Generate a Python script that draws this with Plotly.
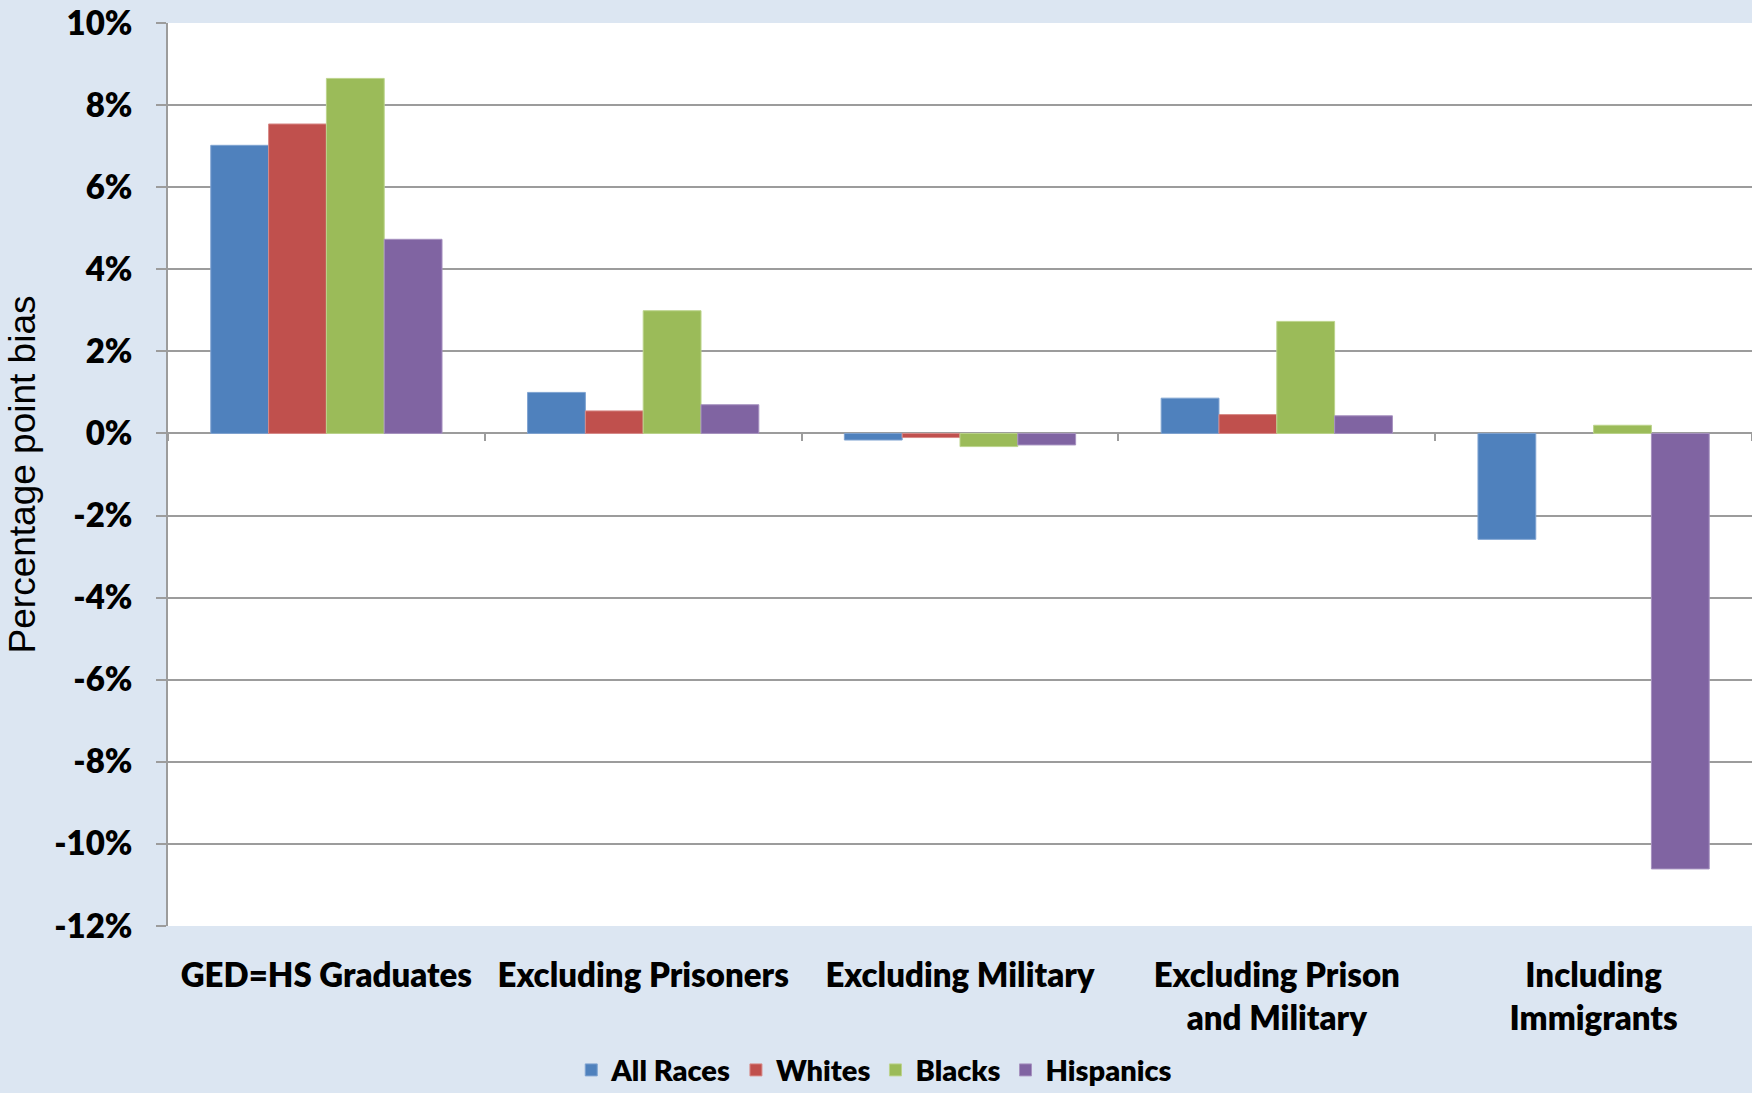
import plotly.graph_objects as go

categories = ["GED=HS Graduates", "Excluding Prisoners", "Excluding Military",
              "Excluding Prison<br>and Military", "Including<br>Immigrants"]
series_names = ["All Races", "Whites", "Blacks", "Hispanics"]
all_races = [7.02, 1.00, -0.16, 0.86, -2.58]
whites = [7.54, 0.55, -0.10, 0.46, None]
blacks = [8.65, 2.99, -0.32, 2.73, 0.20]
hispanics = [4.73, 0.70, -0.28, 0.43, -10.61]
colors = ["#4F81BD", "#C0504D", "#9BBB59", "#8064A2"]
line_colors = ["#7FA3D1", "#D88A88", "#BCD48C", "#A792C0"]
y_tick_vals = [10, 8, 6, 4, 2, 0, -2, -4, -6, -8, -10, -12]
y_tick_text = ["10%", "8%", "6%", "4%", "2%", "0%", "-2%", "-4%", "-6%", "-8%", "-10%", "-12%"]

FONT = "Lato"
GRID = "#9C9C9C"

fig = go.Figure()
for name, vals, c, lc in zip(series_names, [all_races, whites, blacks, hispanics], colors, line_colors):
    fig.add_trace(go.Bar(name=name, x=categories, y=vals, marker=dict(color=c, line=dict(color=lc, width=1))))

# invisible trace to host the overlay axis that draws category boundary ticks at the zero line
fig.add_trace(go.Scatter(x=categories, y=[None] * len(categories), xaxis="x2", showlegend=False,
                         hoverinfo="skip", mode="markers"))

fig.update_layout(
    width=1752, height=1093,
    paper_bgcolor="#DCE6F2", plot_bgcolor="white",
    margin=dict(l=168, r=0, t=23, b=167),
    barmode="group", bargap=0.27, bargroupgap=0,
    font=dict(family=FONT, color="black"),
    xaxis=dict(type="category", showgrid=False, showline=False, ticks="",
               tickfont=dict(family=FONT, size=33, color="black", weight=800),
               ticklabelstandoff=27, zeroline=False),
    xaxis2=dict(type="category", overlaying="x", matches="x", anchor="free",
                position=12 / 22, side="bottom", showticklabels=False, showgrid=False,
                showline=False, ticks="outside", tickson="boundaries", ticklen=7,
                tickwidth=2, tickcolor=GRID),
    yaxis=dict(range=[-12, 10], tickvals=y_tick_vals, ticktext=y_tick_text,
               showgrid=True, gridcolor=GRID, gridwidth=2,
               zeroline=True, zerolinecolor=GRID, zerolinewidth=2,
               showline=True, linecolor=GRID, linewidth=2,
               ticks="outside", ticklen=10, tickwidth=2, tickcolor=GRID,
               ticklabelstandoff=17,
               tickfont=dict(family=FONT, size=33, color="black", weight=800),
               title=dict(text="Percentage point bias",
                          font=dict(family="Liberation Sans", size=37, color="black"),
                          standoff=7)),
    legend=dict(orientation="h", xref="container", x=0.499, xanchor="center",
                yref="container", y=0.021, yanchor="middle",
                font=dict(family=FONT, size=29, color="black", weight=800),
                itemwidth=30, bgcolor="rgba(0,0,0,0)", traceorder="normal"),
    showlegend=True,
)

fig.write_html("out.html", config={"displayModeBar": False},
               post_script="document.body.style.margin='0';")
